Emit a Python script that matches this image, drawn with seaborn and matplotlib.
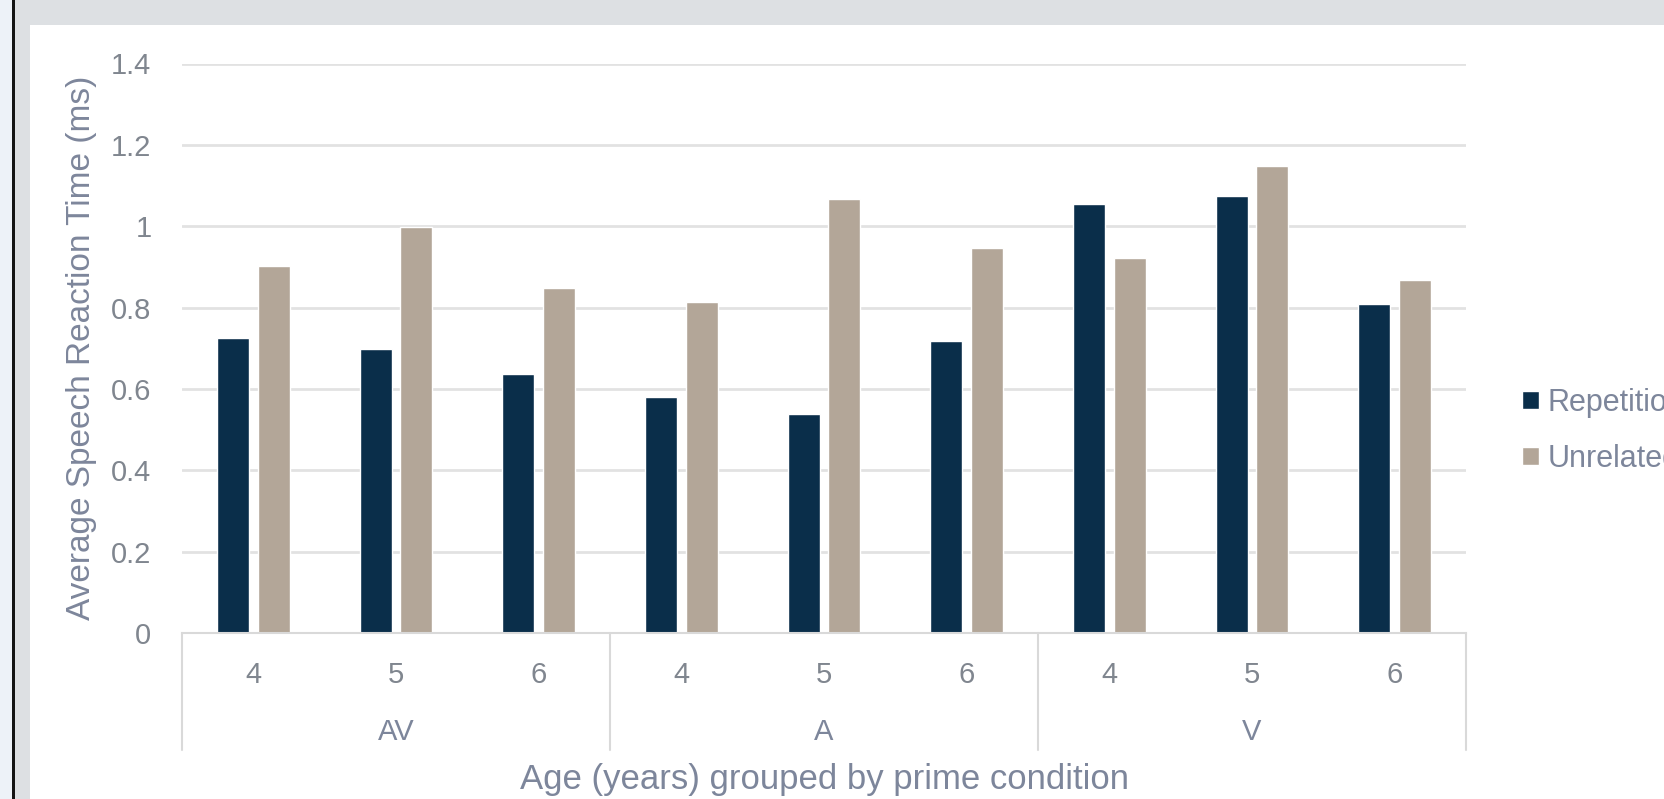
import matplotlib
matplotlib.use("Agg")
import matplotlib.pyplot as plt
from matplotlib.patches import Rectangle
import pandas as pd
import seaborn as sns

# Data: average speech reaction time by prime condition and age
conditions = ["AV", "A", "V"]
ages = ["4", "5", "6"]
series_names = ["Repetition", "Unrelated"]
repetition = [0.726, 0.699, 0.636, 0.581, 0.539, 0.719, 1.054, 1.075, 0.810]
unrelated = [0.901, 0.997, 0.847, 0.813, 1.068, 0.946, 0.922, 1.149, 0.868]
y_ticks = [0, 0.2, 0.4, 0.6, 0.8, 1.0, 1.2, 1.4]
y_tick_labels = ["0", "0.2", "0.4", "0.6", "0.8", "1", "1.2", "1.4"]

slots = [f"{c}-{a}" for c in conditions for a in ages]
df = pd.DataFrame({
    "slot": slots * 2,
    "series": [series_names[0]] * len(slots) + [series_names[1]] * len(slots),
    "value": repetition + unrelated,
})

NAVY = "#0a2e4a"
TAN = "#b3a698"
TEXT = "#7d869b"
TICK_TEXT = "#80868f"
GRID = "#e2e2e2"
RULE = "#d9d9d9"

sns.set_theme(style="white")
plt.rcParams["font.family"] = ["Liberation Sans", "DejaVu Sans"]

W, H = 1664, 799
fig = plt.figure(figsize=(W / 100, H / 100), dpi=100, facecolor="#dde0e3")

# page frame: white panel, pale left strip and a dark vertical rule
for rect, color in [((30 / W, 0, 1 - 30 / W, 1 - 25 / H), "white"),
                    ((0, 0, 12 / W, 1), "#edf2f8"),
                    ((12 / W, 0, 3 / W, 1), "#141414")]:
    fig.patches.append(Rectangle(rect[:2], rect[2], rect[3], transform=fig.transFigure,
                                 facecolor=color, edgecolor="none", zorder=-10))

ax_left, ax_right, ax_top, ax_bottom = 182, 1466, 63.5, 633
ax_h = ax_bottom - ax_top
ax = fig.add_axes([ax_left / W, (H - ax_bottom) / H, (ax_right - ax_left) / W, ax_h / H])
ax.set_facecolor("none")

sns.barplot(data=df, x="slot", y="value", hue="series", order=slots, hue_order=series_names,
            palette=[NAVY, TAN], width=0.57, gap=0.214, saturation=1, ax=ax, legend=True)

ax.set_xlim(-0.5, len(slots) - 0.5)
ax.set_ylim(0, 1.4)
ax.set_yticks(y_ticks, y_tick_labels)
ax.set_xticks(range(len(slots)), ages * len(conditions))
ax.yaxis.grid(True, color=GRID, lw=2)
ax.set_axisbelow(True)
for side in ["left", "right", "top"]:
    ax.spines[side].set_visible(False)
ax.spines["bottom"].set_color(RULE)
ax.spines["bottom"].set_linewidth(1.5)

ax.tick_params(axis="y", length=0, pad=22, labelsize=21, labelcolor=TICK_TEXT)
ax.tick_params(axis="x", length=0, pad=20, labelsize=21, labelcolor=TICK_TEXT)

# group labels and separators of the two-level category axis
xt = ax.get_xaxis_transform()
for i, cond in enumerate(conditions):
    ax.text(i * len(ages) + (len(ages) - 1) / 2, -(732 - ax_bottom) / ax_h, cond, transform=xt,
            ha="center", va="center", fontsize=21, color=TEXT)
for b in range(len(conditions) + 1):
    xb = b * len(ages) - 0.5
    ax.plot([xb, xb], [0, -(750 - ax_bottom) / ax_h], transform=xt, clip_on=False,
            color=RULE, lw=1.5)

ax.set_xlabel("Age (years) grouped by prime condition", fontsize=25, color=TEXT)
ax.xaxis.set_label_coords(0.5, -(780 - ax_bottom) / ax_h)
ax.xaxis.label.set_va("center")
ax.set_ylabel("Average Speech Reaction Time (ms)", fontsize=24, color=TEXT)
ax.yaxis.set_label_coords((82 - ax_left) / (ax_right - ax_left), 0.5)
ax.yaxis.label.set_va("center")

handles, labels = ax.get_legend_handles_labels()
ax.get_legend().remove()
fig.legend(handles, labels, loc="center left", bbox_to_anchor=(1522 / W, 1 - 431 / H),
           frameon=False, borderpad=0, borderaxespad=0, handlelength=0.55, handleheight=0.55,
           handletextpad=0.28, labelspacing=0.85, fontsize=22, labelcolor=TEXT)

fig.savefig("out.png", dpi=100, facecolor=fig.get_facecolor())
